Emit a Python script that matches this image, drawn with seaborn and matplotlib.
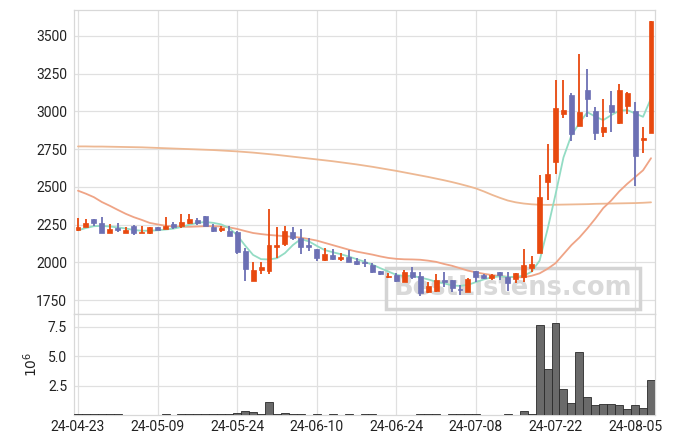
import numpy as np
import pandas as pd
import matplotlib
matplotlib.use("Agg")
import matplotlib.pyplot as plt
import seaborn as sns

# ---------------- data ----------------
tick_labels = ["24-04-23", "24-05-09", "24-05-24", "24-06-10",
               "24-06-24", "24-07-08", "24-07-22", "24-08-05"]
tick_index = [0, 10, 20, 30, 40, 50, 60, 70]

opens = [2217, 2237, 2287, 2261, 2197, 2226, 2197, 2239, 2197, 2197,
         2235, 2223, 2254, 2243, 2261, 2281, 2307, 2237, 2217, 2208,
         2200, 2076, 1880, 1948, 1946, 2105, 2120, 2200, 2164, 2116,
         2089, 2014, 2051, 2025, 2038, 2012, 2001, 1983, 1944, 1904,
         1915, 1873, 1938, 1911, 1803, 1809, 1882, 1884, 1825, 1807,
         1944, 1915, 1900, 1937, 1902, 1891, 1906, 1961, 2065, 2534,
         2667, 2980, 3108, 2905, 3141, 3002, 2861, 3042, 2920, 3037,
         3002, 2812, 2858]
highs = [2296, 2290, 2290, 2300, 2252, 2259, 2237, 2245, 2239, 2235,
         2237, 2300, 2266, 2320, 2318, 2296, 2307, 2254, 2239, 2241,
         2205, 2098, 2001, 2005, 2354, 2237, 2243, 2237, 2219, 2160,
         2092, 2094, 2091, 2061, 2082, 2028, 2021, 1995, 1946, 1928,
         1932, 1950, 1972, 1939, 1873, 1924, 1935, 1887, 1851, 1900,
         1946, 1924, 1924, 1940, 1939, 1930, 2089, 2043, 2579, 2781,
         3207, 3207, 3123, 3379, 3277, 3026, 3079, 3136, 3180, 3130,
         3064, 2898, 3600]
lows = [2208, 2232, 2240, 2195, 2195, 2204, 2195, 2180, 2195, 2190,
        2214, 2221, 2223, 2225, 2255, 2248, 2243, 2204, 2200, 2175,
        2056, 1877, 1878, 1922, 1926, 2028, 2111, 2150, 2054, 2076,
        2012, 2012, 2018, 2012, 2000, 1981, 1968, 1932, 1920, 1895,
        1871, 1871, 1888, 1780, 1800, 1805, 1840, 1807, 1782, 1805,
        1873, 1891, 1882, 1884, 1813, 1862, 1873, 1939, 2060, 2413,
        2585, 2953, 2806, 2900, 2964, 2810, 2828, 2861, 2918, 2982,
        2506, 2722, 2858]
closes = [2235, 2261, 2259, 2197, 2221, 2217, 2217, 2197, 2204, 2233,
          2217, 2241, 2235, 2266, 2287, 2261, 2243, 2206, 2230, 2177,
          2071, 1957, 1950, 1972, 2116, 2116, 2208, 2160, 2105, 2105,
          2028, 2055, 2021, 2034, 2003, 1990, 1995, 1935, 1922, 1913,
          1880, 1939, 1907, 1796, 1844, 1882, 1873, 1829, 1818, 1891,
          1902, 1900, 1915, 1919, 1862, 1928, 1983, 1990, 2435, 2585,
          3019, 3008, 2850, 2997, 3081, 2858, 2896, 2997, 3141, 3121,
          2706, 2825, 3600]

ma_short = [2213, 2228, 2240, 2242, 2238, 2232, 2225, 2215, 2210, 2210,
            2213, 2218, 2224, 2235, 2250, 2262, 2268, 2262, 2252, 2228,
            2180, 2112, 2050, 2022, 2020, 2028, 2062, 2115, 2155, 2140,
            2110, 2082, 2068, 2055, 2040, 2022, 2005, 1985, 1962, 1940,
            1918, 1910, 1912, 1900, 1888, 1872, 1862, 1848, 1845, 1852,
            1870, 1888, 1902, 1908, 1904, 1905, 1912, 1939, 2012, 2220,
            2450, 2695, 2843, 2922, 2995, 2965, 2942, 2975, 3004, 3009,
            2986, 2964, 3086]
ma_mid = [2475, 2455, 2432, 2400, 2375, 2348, 2322, 2300, 2282, 2262,
          2252, 2243, 2238, 2236, 2236, 2238, 2240, 2240, 2238, 2232,
          2222, 2208, 2195, 2188, 2182, 2178, 2174, 2170, 2164, 2155,
          2145, 2130, 2115, 2100, 2085, 2072, 2062, 2052, 2040, 2030,
          2024, 2021, 2020, 2018, 2012, 2004, 1990, 1978, 1962, 1946,
          1935, 1925, 1917, 1910, 1905, 1902, 1902, 1912, 1928, 1958,
          1995, 2055, 2115, 2165, 2225, 2290, 2360, 2410, 2470, 2520,
          2565, 2610, 2690]
ma_long = [2768, 2768, 2767, 2767, 2766, 2765, 2764, 2763, 2762, 2760,
           2758, 2756, 2754, 2752, 2750, 2748, 2746, 2744, 2741, 2738,
           2735, 2731, 2727, 2722, 2717, 2712, 2706, 2700, 2694, 2688,
           2682, 2676, 2670, 2663, 2656, 2649, 2641, 2633, 2624, 2615,
           2606, 2596, 2586, 2576, 2566, 2555, 2544, 2532, 2519, 2505,
           2490, 2470, 2448, 2428, 2410, 2398, 2390, 2385, 2382, 2381,
           2382, 2383, 2384, 2385, 2386, 2388, 2389, 2390, 2391, 2392,
           2393, 2395, 2398]

volume_m = [0.07, 0.07, 0.07, 0.07, 0.07, 0.07, 0, 0, 0, 0,
            0, 0.07, 0, 0.07, 0.07, 0.07, 0.07, 0.07, 0.07, 0.07,
            0.2, 0.37, 0.28, 0.1, 1.14, 0.07, 0.2, 0.07, 0.07, 0,
            0.07, 0, 0.07, 0, 0.07, 0, 0.07, 0.07, 0, 0,
            0, 0, 0, 0.07, 0.07, 0.07, 0, 0.07, 0.07, 0.07,
            0.07, 0, 0, 0, 0.08, 0, 0.37, 0.07, 7.7, 3.95,
            7.85, 2.2, 1.05, 5.4, 1.5, 0.85, 0.9, 0.9, 0.85, 0.5,
            0.85, 0.6, 2.95]

# ---------------- style ----------------
sns.set_theme(style="whitegrid")
plt.rcParams["font.family"] = ["Roboto", "DejaVu Sans"]

UP = "#E8490F"
DOWN = "#6C70B4"
GRID = "#e0e0e0"

idx = np.arange(len(opens))
df = pd.DataFrame({"i": idx, "open": opens, "high": highs, "low": lows,
                   "close": closes, "ma5": ma_short, "ma20": ma_mid,
                   "ma60": ma_long, "vol": volume_m})

fig = plt.figure(figsize=(6.75, 4.44), dpi=100)
ax = fig.add_axes([74 / 675, 1 - 314 / 444, 581 / 675, (314 - 9.5) / 444])
axv = fig.add_axes([74 / 675, 1 - 415 / 444, 581 / 675, 101 / 444], sharex=ax)

# moving averages
sns.lineplot(data=df, x="i", y="ma60", ax=ax, color="#EDB893", lw=1.3, zorder=2)
sns.lineplot(data=df, x="i", y="ma20", ax=ax, color="#EFA486", lw=1.3, zorder=2)
sns.lineplot(data=df, x="i", y="ma5", ax=ax, color="#93DCC4", lw=1.3, zorder=2)

# candles
up = df["close"] >= df["open"]
colors = np.where(up, UP, DOWN)
ax.vlines(df["i"], df["low"], df["high"], colors=colors, lw=1.3, zorder=3)
bottoms = np.minimum(df["open"], df["close"])
heights = np.maximum(np.abs(df["close"] - df["open"]), 5)
ax.bar(df["i"], heights, bottom=bottoms, width=0.62, color=colors,
       edgecolor=colors, lw=0.5, zorder=4)

# watermark
ax.text(54.65, 1828, "BestListens.com", fontsize=18.5, fontweight="bold",
        color="#d9d9d9", ha="center", va="center", zorder=1,
        family="DejaVu Sans",
        bbox=dict(boxstyle="square,pad=0.3", fc="none", ec="#d4d4d4", lw=2.5))

ax.set_xlim(-0.5, 72.5)
ax.set_ylim(1659, 3674)
ax.set_yticks([1750, 2000, 2250, 2500, 2750, 3000, 3250, 3500])
ax.set_xticks(tick_index)
ax.tick_params(axis="x", labelbottom=False, length=0)
ax.tick_params(axis="y", length=0, pad=5, labelsize=10, colors="#222222")
ax.set_xlabel("")
ax.set_ylabel("")

# volume
vdf = df[df["vol"] > 0]
sns.barplot(data=vdf, x="i", y="vol", ax=axv, native_scale=True,
            color="#6a6a6a", edgecolor="#2a2a2a", linewidth=0.6,
            width=1.0, saturation=1, zorder=3)
axv.set_ylim(0, 8.6)
axv.set_yticks([2.5, 5.0, 7.5])
axv.set_yticklabels(["2.5", "5.0", "7.5"])
axv.set_xticks(tick_index)
axv.set_xticklabels(tick_labels)
axv.set_xlim(-0.5, 72.5)
axv.tick_params(axis="both", length=0, labelsize=10, colors="#222222")
axv.tick_params(axis="y", pad=5)
axv.set_xlabel("")
axv.set_ylabel("$10^6$", fontsize=10, color="#222222", labelpad=6)

for a in (ax, axv):
    a.grid(True, color=GRID, lw=0.9)
    a.set_axisbelow(True)
    for s in a.spines.values():
        s.set_color("#d8d8d8")
        s.set_linewidth(0.9)
axv.spines["bottom"].set_zorder(1)

fig.savefig("out.png", dpi=100)
